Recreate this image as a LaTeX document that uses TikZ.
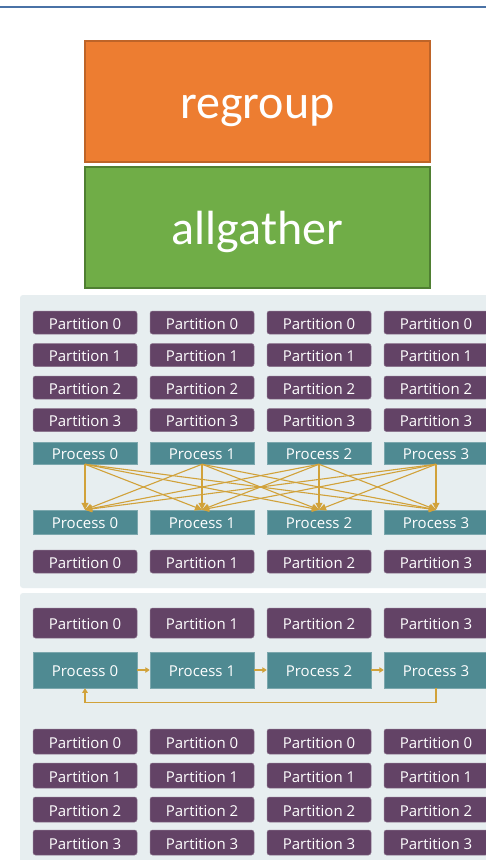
\documentclass[tikz,border=0pt]{standalone}
\usepackage{fontspec}
\setmainfont{Open Sans}
\newfontfamily\calibfont{Carlito}
\usetikzlibrary{arrows.meta}
\definecolor{topblue}{HTML}{4A72A6}
\definecolor{orangefill}{HTML}{ED7D31}
\definecolor{orangeedge}{HTML}{BE6428}
\definecolor{greenfill}{HTML}{70AD47}
\definecolor{greenedge}{HTML}{4F7F32}
\definecolor{panelbg}{HTML}{E7EEF0}
\definecolor{partfill}{HTML}{634366}
\definecolor{procfill}{HTML}{4F8A92}
\definecolor{arrowgold}{HTML}{D1A23A}
\tikzset{
  bigbox/.style={draw, line width=1.8pt, minimum width=345pt, minimum height=121pt,
    inner sep=0pt, text=white, text height=33pt, text depth=0pt,
    font=\calibfont\fontsize{48}{50}\selectfont},
  partbox/.style={fill=partfill, draw=partfill!75!white, line width=0.5pt,
    rounded corners=2.5pt, minimum width=104pt, inner sep=0pt, text=white,
    text height=13pt, text depth=0pt, font=\fontsize{15}{18}\selectfont},
  procbox/.style={fill=procfill, draw=procfill!75!white, line width=0.5pt,
    minimum width=104pt, inner sep=0pt, text=white,
    text height=12pt, text depth=0pt, font=\fontsize{15}{18}\selectfont},
  conn/.style={draw=arrowgold, line width=1.1pt},
  bigtip/.style={-{Triangle[length=7pt,width=7pt]}},
  smalltip/.style={-{Triangle[length=4.5pt,width=5.5pt]}}
}
\begin{document}
\begin{tikzpicture}[x=1pt,y=-1pt]
\useasboundingbox (0,0) rectangle (486,860);
\clip (0,0) rectangle (486,860);
\fill[white] (0,0) rectangle (486,860);
\draw[topblue, line width=2pt] (0,7) -- (486,7);
\node[bigbox, fill=orangefill, draw=orangeedge] (regroup) at (257.5,101.5) {regroup};
\node[bigbox, fill=greenfill, draw=greenedge] (allgather) at (257.5,227.5) {allgather};
\fill[panelbg, rounded corners=3pt] (20,295) rectangle (510,588);
\fill[panelbg, rounded corners=3pt] (20,593) rectangle (510,880);
\foreach \c/\x in {0/85,1/202,2/319,3/436}{
  \foreach \r/\y in {0/322.5,1/355,2/387.5,3/420}{
    \node[partbox, minimum height=23pt] (A\r\c) at (\x,\y) {Partition \r};
  }
  \node[procbox, minimum height=22pt] (PA\c) at (\x,453) {Process \c};
  \node[procbox, minimum height=24pt] (PB\c) at (\x,522) {Process \c};
  \node[partbox, minimum height=23pt] (AF\c) at (\x,561.5) {Partition \c};
  \node[partbox, minimum height=30pt] (B\c) at (\x,623) {Partition \c};
  \node[procbox, minimum height=36pt] (Q\c) at (\x,670) {Process \c};
  \foreach \r/\y in {0/741.5,1/775.5,2/809.5,3/842.5}{
    \node[partbox, minimum height=25pt] (C\r\c) at (\x,\y) {Partition \r};
  }
}
\foreach \i in {0,...,3}{
  \foreach \j in {0,...,3}{
    \draw[conn, bigtip] (PA\i.south) -- (PB\j.north);
  }
}
\foreach \i/\j in {0/1,1/2,2/3}{
  \draw[conn, smalltip] (Q\i.east) -- (Q\j.west);
}
\draw[conn, smalltip] (Q3.south) -- ++(0,14) -| (Q0.south);
\end{tikzpicture}
\end{document}
